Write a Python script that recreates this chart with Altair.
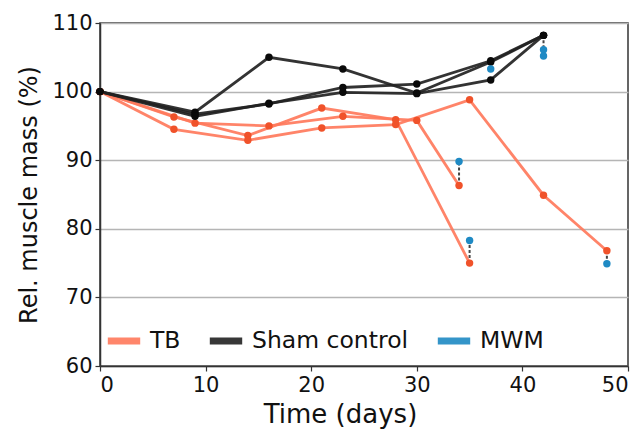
import altair as alt
import pandas as pd

# ---- data ----
tb1_days = [0, 7, 14, 21, 28, 35]
tb1_vals = [100, 96.3, 93.6, 97.6, 95.9, 75.0]
tb2_days = [0, 7, 14, 21, 28, 35, 42, 48]
tb2_vals = [100, 94.5, 92.9, 94.7, 95.2, 98.8, 84.9, 76.8]
tb3_days = [0, 9, 16, 23, 30, 34]
tb3_vals = [100, 95.4, 95.0, 96.4, 95.8, 86.3]

sh_days = [0, 9, 16, 23, 30, 37, 42]
sh1_vals = [100, 97.0, 105.0, 103.3, 99.8, 104.3, 108.2]
sh2_vals = [100, 96.7, 98.2, 100.6, 101.1, 104.5, 108.2]
sh3_vals = [100, 96.4, 98.3, 99.9, 99.7, 101.7, 108.2]

mwm_days = [34, 35, 48, 37, 42, 42]
mwm_vals = [89.8, 78.3, 74.9, 103.3, 106.1, 105.2]
# paired end values (connector from line end to MWM)
conn_days = [34, 35, 48, 42]
conn_from = [86.3, 75.0, 76.8, 108.2]
conn_to = [89.8, 78.3, 74.9, 106.1]

groups = ["TB", "Sham control", "MWM"]
colors = ["#FF7A5C", "#222222", "#1F8AC4"]

rows = []
for name, d, v in [("tb1", tb1_days, tb1_vals), ("tb2", tb2_days, tb2_vals), ("tb3", tb3_days, tb3_vals)]:
    for i, (x, y) in enumerate(zip(d, v)):
        rows.append({"day": x, "val": y, "subject": name, "group": "TB", "order": i})
for name, v in [("sh1", sh1_vals), ("sh2", sh2_vals), ("sh3", sh3_vals)]:
    for i, (x, y) in enumerate(zip(sh_days, v)):
        rows.append({"day": x, "val": y, "subject": name, "group": "Sham control", "order": i})
df = pd.DataFrame(rows)
mwm = pd.DataFrame({"day": mwm_days, "val": mwm_vals})
conn = pd.DataFrame({"day": conn_days, "v1": conn_from, "v2": conn_to})

FONT = "DejaVu Sans"
xs = alt.Scale(domain=[0, 50], nice=False)
ys = alt.Scale(domain=[60, 110], nice=False)

xax = alt.Axis(values=[0, 10, 20, 30, 40, 50], title="Time (days)", grid=False,
               labelFontSize=21, titleFontSize=26, labelFont=FONT, titleFont=FONT,
               labelColor="#111", titleColor="#111", tickColor="#333", domainColor="#333",
               tickSize=5, tickWidth=1.2, domainWidth=1.5, labelPadding=3, titlePadding=6,
               titleX=240, titleAlign="center", titleFontWeight="normal")
yax = alt.Axis(values=[60, 70, 80, 90, 100, 110], title="Rel. muscle mass (%)", grid=True,
               gridColor="#b5b5b5", gridWidth=1.5,
               labelFontSize=21, titleFontSize=24, labelFont=FONT, titleFont=FONT,
               labelColor="#111", titleColor="#111", tickColor="#333", domainColor="#333",
               tickSize=5, tickWidth=1.2, domainWidth=1.5, labelPadding=3, titlePadding=10,
               titleFontWeight="normal")

base = alt.Chart(df)

lines = base.mark_line(strokeWidth=2.8, opacity=0.92).encode(
    x=alt.X("day:Q", scale=xs, axis=xax),
    y=alt.Y("val:Q", scale=ys, axis=yax),
    detail="subject:N",
    order="order:Q",
    color=alt.Color("group:N", scale=alt.Scale(domain=groups, range=colors),
                    legend=alt.Legend(orient="none", legendX=4, legendY=298, direction="horizontal",
                                      title=None, symbolType="stroke", symbolSize=1050,
                                      symbolStrokeWidth=7, labelFontSize=23.5, labelFont=FONT,
                                      labelColor="#111", columnPadding=14, labelOffset=6,
                                      gridAlign="none", symbolOpacity=0.9)),
)

tb_pts = alt.Chart(df[df.group == "TB"]).mark_circle(size=55, opacity=1, color="#F0522A").encode(
    x=alt.X("day:Q", scale=xs), y=alt.Y("val:Q", scale=ys))
sh_pts = alt.Chart(df[df.group == "Sham control"]).mark_circle(size=55, opacity=1, color="#0a0a0a").encode(
    x=alt.X("day:Q", scale=xs), y=alt.Y("val:Q", scale=ys))

rules = alt.Chart(conn).mark_rule(strokeDash=[3, 2], strokeWidth=2, color="#444444").encode(
    x=alt.X("day:Q", scale=xs), y=alt.Y("v1:Q", scale=ys), y2="v2:Q")

mwm_pts = alt.Chart(mwm).mark_circle(size=55, opacity=1, color="#1F8AC4").encode(
    x=alt.X("day:Q", scale=xs), y=alt.Y("val:Q", scale=ys))

chart = alt.layer(lines, rules, tb_pts, sh_pts, mwm_pts).properties(
    width=528, height=343,
    autosize=alt.AutoSizeParams(type="none"),
    padding={"left": 100, "top": 23, "right": 15, "bottom": 63},
    background="white",
).configure_view(stroke="#333333", strokeWidth=1.5)

chart.save("out.html", embed_options={"renderer": "svg", "actions": False})
